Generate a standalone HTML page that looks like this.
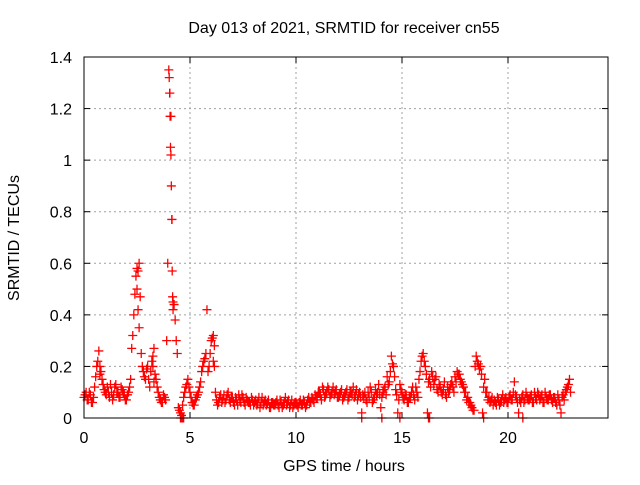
<!DOCTYPE html>
<html><head><meta charset="utf-8"><style>
body{margin:0;background:#fff}
svg text{font-family:"Liberation Sans",sans-serif;font-size:16px;fill:#000}
</style></head><body>
<svg id="chart" width="640" height="480" xmlns="http://www.w3.org/2000/svg">
<rect width="640" height="480" fill="#fff"/>
<text x="344" y="33" text-anchor="middle">Day 013 of 2021, SRMTID for receiver cn55</text>
<text x="344" y="471" text-anchor="middle">GPS time / hours</text>
<text x="19" y="238" text-anchor="middle" transform="rotate(-90 19 238)">SRMTID / TECUs</text>
<g id="grid"></g><g id="ticks"></g><g id="marks"></g>
<rect x="84" y="57" width="524" height="361" fill="none" stroke="#000" stroke-width="1"/>
</svg>
<script>
const xTicks=[0,5,10,15,20];
const yTicks=[0,0.2,0.4,0.6,0.8,1,1.2,1.4];
const yTickLabels=["0","0.2","0.4","0.6","0.8","1","1.2","1.4"];
const times=[
0.0,0.1,0.2,0.3,0.4,0.5,0.6,0.7,0.8,0.9,
1.0,1.1,1.2,1.3,1.4,1.5,1.6,1.7,1.8,1.9,
2.0,2.1,2.2,2.3,2.4,2.5,2.6,2.7,2.8,2.9,
3.0,3.1,3.2,3.3,3.4,3.5,3.6,3.7,3.8,3.9,
4.0,4.1,4.2,4.3,4.4,4.5,4.6,4.7,4.8,4.9,
5.0,5.1,5.2,5.3,5.4,5.5,5.6,5.7,5.8,5.9,
6.0,6.1,6.2,6.3,6.4,6.5,6.6,6.7,6.8,6.9,
7.0,7.1,7.2,7.3,7.4,7.5,7.6,7.7,7.8,7.9,
8.0,8.1,8.2,8.3,8.4,8.5,8.6,8.7,8.8,8.9,
9.0,9.1,9.2,9.3,9.4,9.5,9.6,9.7,9.8,9.9,
10.0,10.1,10.2,10.3,10.4,10.5,10.6,10.7,10.8,10.9,
11.0,11.1,11.2,11.3,11.4,11.5,11.6,11.7,11.8,11.9,
12.0,12.1,12.2,12.3,12.4,12.5,12.6,12.7,12.8,12.9,
13.0,13.1,13.2,13.3,13.4,13.5,13.6,13.7,13.8,13.9,
14.0,14.1,14.2,14.3,14.4,14.5,14.6,14.7,14.8,14.9,
15.0,15.1,15.2,15.3,15.4,15.5,15.6,15.7,15.8,15.9,
16.0,16.1,16.2,16.3,16.4,16.5,16.6,16.7,16.8,16.9,
17.0,17.1,17.2,17.3,17.4,17.5,17.6,17.7,17.8,17.9,
18.0,18.1,18.2,18.3,18.4,18.5,18.6,18.7,18.8,18.9,
19.0,19.1,19.2,19.3,19.4,19.5,19.6,19.7,19.8,19.9,
20.0,20.1,20.2,20.3,20.4,20.5,20.6,20.7,20.8,20.9,
21.0,21.1,21.2,21.3,21.4,21.5,21.6,21.7,21.8,21.9,
22.0,22.1,22.2,22.3,22.4,22.5,22.6,22.7,22.8,22.9,
4.0,4.02,4.04,4.06,4.08,4.1,4.12,4.14,4.16,4.18,4.2,
2.45,2.5,2.55,2.6,6.1,6.15,0.65,0.75,3.25,3.3,
4.55,4.6,4.65,4.7,13.1,14.05,14.9,16.25,16.3,18.85,20.7];
const values=[
0.08,0.1,0.07,0.09,0.06,0.12,0.2,0.26,0.18,0.13,
0.1,0.12,0.08,0.1,0.09,0.13,0.1,0.08,0.11,0.09,
0.07,0.1,0.15,0.32,0.48,0.58,0.6,0.25,0.18,0.15,
0.2,0.12,0.22,0.27,0.15,0.1,0.07,0.06,0.08,0.3,
1.35,1.17,0.45,0.38,0.25,0.03,0.01,0.08,0.12,0.15,
0.1,0.06,0.05,0.08,0.1,0.14,0.2,0.23,0.42,0.2,
0.3,0.32,0.1,0.05,0.08,0.06,0.09,0.07,0.1,0.06,
0.08,0.05,0.07,0.09,0.06,0.08,0.05,0.07,0.06,0.08,
0.05,0.07,0.06,0.04,0.08,0.06,0.05,0.07,0.04,0.06,
0.05,0.07,0.04,0.06,0.05,0.08,0.06,0.04,0.07,0.05,
0.06,0.04,0.07,0.05,0.06,0.05,0.08,0.06,0.07,0.09,
0.08,0.1,0.07,0.11,0.09,0.12,0.08,0.1,0.09,0.11,
0.08,0.1,0.07,0.09,0.11,0.08,0.1,0.12,0.09,0.07,
0.1,0.02,0.08,0.07,0.1,0.12,0.06,0.08,0.09,0.13,
0.04,0.1,0.12,0.16,0.14,0.24,0.2,0.11,0.02,0.13,
0.1,0.07,0.09,0.06,0.08,0.12,0.07,0.1,0.15,0.22,
0.25,0.2,0.02,0.15,0.18,0.13,0.16,0.1,0.12,0.09,
0.14,0.08,0.1,0.13,0.12,0.16,0.18,0.17,0.14,0.12,
0.1,0.08,0.06,0.04,0.03,0.24,0.21,0.2,0.02,0.15,
0.1,0.08,0.07,0.05,0.06,0.08,0.05,0.07,0.06,0.08,
0.06,0.09,0.07,0.14,0.08,0.02,0.06,0.09,0.07,0.08,
0.07,0.09,0.06,0.08,0.1,0.07,0.09,0.06,0.08,0.07,
0.09,0.06,0.08,0.05,0.07,0.02,0.09,0.1,0.12,0.15,
1.35,1.32,1.26,1.17,1.05,1.02,0.9,0.77,0.57,0.47,0.42,
0.55,0.5,0.42,0.35,0.22,0.28,0.22,0.17,0.2,0.14,
0,0,0,0,0,0,0,0,0,0,0];
const times2=[
0.05,0.15,0.25,0.35,0.45,0.55,0.65,0.75,0.85,0.95,
1.05,1.15,1.25,1.35,1.45,1.55,1.65,1.75,1.85,1.95,
2.05,2.15,2.25,2.35,2.45,2.55,2.65,2.75,2.85,2.95,
3.05,3.15,3.25,3.35,3.45,3.55,3.65,3.75,3.85,3.95,
4.05,4.15,4.25,4.35,4.45,4.55,4.65,4.75,4.85,4.95,
5.05,5.15,5.25,5.35,5.45,5.55,5.65,5.75,5.85,5.95,
6.05,6.15,6.25,6.35,6.45,6.55,6.65,6.75,6.85,6.95,
7.05,7.15,7.25,7.35,7.45,7.55,7.65,7.75,7.85,7.95,
8.05,8.15,8.25,8.35,8.45,8.55,8.65,8.75,8.85,8.95,
9.05,9.15,9.25,9.35,9.45,9.55,9.65,9.75,9.85,9.95,
10.05,10.15,10.25,10.35,10.45,10.55,10.65,10.75,10.85,10.95,
11.05,11.15,11.25,11.35,11.45,11.55,11.65,11.75,11.85,11.95,
12.05,12.15,12.25,12.35,12.45,12.55,12.65,12.75,12.85,12.95,
13.05,13.15,13.25,13.35,13.45,13.55,13.65,13.75,13.85,13.95,
14.05,14.15,14.25,14.35,14.45,14.55,14.65,14.75,14.85,14.95,
15.05,15.15,15.25,15.35,15.45,15.55,15.65,15.75,15.85,15.95,
16.05,16.15,16.25,16.35,16.45,16.55,16.65,16.75,16.85,16.95,
17.05,17.15,17.25,17.35,17.45,17.55,17.65,17.75,17.85,17.95,
18.05,18.15,18.25,18.35,18.45,18.55,18.65,18.75,18.85,18.95,
19.05,19.15,19.25,19.35,19.45,19.55,19.65,19.75,19.85,19.95,
20.05,20.15,20.25,20.35,20.45,20.55,20.65,20.75,20.85,20.95,
21.05,21.15,21.25,21.35,21.45,21.55,21.65,21.75,21.85,21.95,
22.05,22.15,22.25,22.35,22.45,22.55,22.65,22.75,22.85,22.95];
const values2=[
0.09,0.07,0.1,0.06,0.08,0.16,0.22,0.2,0.15,0.11,
0.09,0.1,0.13,0.07,0.12,0.1,0.08,0.12,0.1,0.07,
0.09,0.12,0.27,0.4,0.55,0.57,0.47,0.2,0.16,0.19,
0.15,0.18,0.24,0.17,0.12,0.08,0.06,0.09,0.07,0.6,
1.26,0.77,0.44,0.3,0.04,0.02,0.05,0.1,0.13,0.12,
0.08,0.05,0.07,0.09,0.12,0.18,0.22,0.25,0.18,0.25,
0.31,0.2,0.07,0.06,0.09,0.07,0.06,0.09,0.07,0.08,
0.06,0.08,0.05,0.07,0.09,0.06,0.08,0.06,0.05,0.07,
0.06,0.05,0.08,0.06,0.05,0.07,0.06,0.04,0.06,0.05,
0.06,0.05,0.07,0.04,0.06,0.05,0.07,0.05,0.04,0.06,
0.05,0.06,0.05,0.07,0.04,0.07,0.06,0.08,0.06,0.08,
0.1,0.09,0.12,0.08,0.1,0.11,0.09,0.12,0.1,0.08,
0.09,0.11,0.08,0.1,0.07,0.1,0.09,0.08,0.11,0.09,
0.08,0.09,0.1,0.06,0.08,0.1,0.07,0.11,0.1,0.09,
0.08,0.11,0.09,0.13,0.18,0.21,0.16,0.09,0.07,0.11,
0.08,0.09,0.06,0.08,0.1,0.09,0.12,0.08,0.18,0.24,
0.22,0.17,0.14,0.12,0.16,0.15,0.11,0.13,0.1,0.11,
0.09,0.12,0.11,0.14,0.1,0.14,0.17,0.15,0.13,0.1,
0.07,0.06,0.05,0.03,0.2,0.22,0.19,0.17,0.12,0.1,
0.07,0.06,0.08,0.07,0.05,0.07,0.06,0.09,0.07,0.06,
0.08,0.07,0.1,0.09,0.06,0.07,0.08,0.06,0.1,0.07,
0.08,0.06,0.1,0.07,0.09,0.08,0.06,0.1,0.07,0.09,
0.07,0.08,0.06,0.09,0.05,0.08,0.07,0.11,0.13,0.1];
const NS="http://www.w3.org/2000/svg";
const X0=84,X1=608,Y0=418,Y1=57,XMAX=(608-84)/21.2,YMAX=1.4;
function xs(t){return X0+(t/XMAX)*(X1-X0);}
function ys(v){return Y0-(v/YMAX)*(Y0-Y1);}
function mk(tag,at,parent){const e=document.createElementNS(NS,tag);for(const k in at)e.setAttribute(k,at[k]);parent.appendChild(e);return e;}
const grid=document.getElementById('grid'),ticks=document.getElementById('ticks'),marks=document.getElementById('marks');
xTicks.forEach(t=>{const x=xs(t);
 if(t>0){const g=mk('line',{x1:x,y1:Y1,x2:x,y2:Y0,stroke:'#a0a0a0','stroke-dasharray':'2,3'},grid);
 
 }
 mk('line',{x1:x,y1:Y0,x2:x,y2:Y0-6,stroke:'#000'},ticks);
 mk('line',{x1:x,y1:Y1,x2:x,y2:Y1+6,stroke:'#000'},ticks);
 const l=mk('text',{x:x,y:443,'text-anchor':'middle'},ticks);l.textContent=String(t);
 
 
});
yTicks.forEach((v,i)=>{const y=ys(v);
 if(v>0&&v<YMAX){const g=mk('line',{x1:X0,y1:y,x2:X1,y2:y,stroke:'#a0a0a0','stroke-dasharray':'2,3'},grid);
 
 }
 mk('line',{x1:X0,y1:y,x2:X0+6,y2:y,stroke:'#000'},ticks);
 mk('line',{x1:X1,y1:y,x2:X1-6,y2:y,stroke:'#000'},ticks);
 const l=mk('text',{x:72,y:y+6,'text-anchor':'end'},ticks);l.textContent=yTickLabels[i];
 
 
});
let d='';
times.forEach((t,i)=>{const x=xs(t),y=ys(values[i]);d+=`M${x-4.5},${y}h9M${x},${y-4.5}v9`;});
times2.forEach((t,i)=>{const x=xs(t),y=ys(values2[i]);d+=`M${x-4.5},${y}h9M${x},${y-4.5}v9`;});
const p=mk('path',{d:d,stroke:'#ff0000','stroke-width':1.3,fill:'none'},marks);


</script>
</body></html>
